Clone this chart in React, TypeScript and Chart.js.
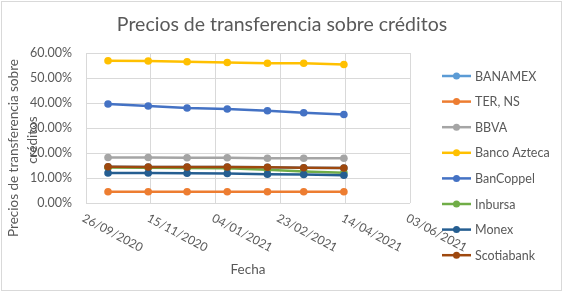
import React, { useEffect, useRef } from "react";
import { Chart, registerables } from "chart.js";

Chart.register(...registerables);

const chartTitle = "Precios de transferencia sobre créditos";
const yTitleLines = ["Precios de transferencia sobre", "créditos"];
const xTitle = "Fecha";

const dates = ["13/10/2020", "13/11/2020", "13/12/2020", "13/01/2021", "13/02/2021", "13/03/2021", "13/04/2021"];
const xTickLabels = ["26/09/2020", "15/11/2020", "04/01/2021", "23/02/2021", "14/04/2021", "03/06/2021"];

const seriesNames = ["BANAMEX", "TER, NS", "BBVA", "Banco Azteca", "BanCoppel", "Inbursa", "Monex", "Scotiabank"];
const seriesColors = ["#5B9BD5", "#ED7D31", "#A5A5A5", "#FFC000", "#4472C4", "#70AD47", "#255E91", "#9E480E"];

const banamex = [14.5, 14.4, 14.4, 14.4, 14.3, 14.1, 14.0];
const terNs = [4.5, 4.5, 4.5, 4.5, 4.5, 4.5, 4.5];
const bbva = [18.2, 18.2, 18.1, 18.1, 17.9, 17.9, 17.9];
const bancoAzteca = [56.9, 56.8, 56.5, 56.2, 55.9, 55.9, 55.4];
const banCoppel = [39.6, 38.8, 38.0, 37.6, 36.9, 36.1, 35.4];
const inbursa = [14.2, 14.1, 14.0, 13.9, 13.3, 12.6, 12.1];
const monex = [12.0, 12.0, 11.9, 11.8, 11.5, 11.4, 11.1];
const scotiabank = [14.5, 14.4, 14.4, 14.4, 14.3, 14.1, 14.0];

const seriesValues = [banamex, terNs, bbva, bancoAzteca, banCoppel, inbursa, monex, scotiabank];

const GREY = "#595959";
const FONT = "Lato, 'Open Sans', sans-serif";

function toSerial(s: string): number {
  const [d, m, y] = s.split("/").map(Number);
  return Math.round((Date.UTC(y, m - 1, d) - Date.UTC(1899, 11, 30)) / 86400000);
}

const xMin = toSerial(xTickLabels[0]);
const xMax = toSerial(xTickLabels[xTickLabels.length - 1]);

const decorPlugin = {
  id: "decor",
  afterDraw(chart: any) {
    const ctx = chart.ctx;
    const area = chart.chartArea;
    const xs = chart.scales.x;
    ctx.save();
    // outer border
    ctx.strokeStyle = "#d9d9d9";
    ctx.lineWidth = 1;
    ctx.strokeRect(1.5, 1.5, 560, 289);

    // title
    ctx.fillStyle = GREY;
    ctx.font = `19.5px ${FONT}`;
    ctx.textAlign = "center";
    ctx.textBaseline = "middle";
    ctx.fillText(chartTitle, 282, 25);

    // x tick labels, rotated clockwise
    ctx.font = `12px ${FONT}`;
    ctx.textAlign = "left";
    ctx.textBaseline = "top";
    xTickLabels.forEach((lab) => {
      const px = xs.getPixelForValue(toSerial(lab));
      ctx.save();
      ctx.translate(px, area.bottom + 9);
      ctx.rotate((28 * Math.PI) / 180);
      ctx.fillText(lab, 0, 0);
      ctx.restore();
    });

    // x title
    ctx.font = `13.5px ${FONT}`;
    ctx.textAlign = "center";
    ctx.textBaseline = "middle";
    ctx.fillText(xTitle, (area.left + area.right) / 2, 270);

    // y title (two lines, rotated)
    ctx.font = `13.5px ${FONT}`;
    const yCenters = [148, 140];
    const xCenters = [14, 33];
    yTitleLines.forEach((line, i) => {
      ctx.save();
      ctx.translate(xCenters[i], yCenters[i]);
      ctx.rotate(-Math.PI / 2);
      ctx.fillText(line, 0, 0);
      ctx.restore();
    });

    // legend
    ctx.font = `12.5px ${FONT}`;
    ctx.textAlign = "left";
    ctx.textBaseline = "middle";
    const startY = 76;
    const step = 25.6;
    chart.data.datasets.forEach((ds: any, i: number) => {
      const y = startY + i * step;
      ctx.strokeStyle = ds.borderColor;
      ctx.lineWidth = 2.5;
      ctx.beginPath();
      ctx.moveTo(442, y);
      ctx.lineTo(471, y);
      ctx.stroke();
      ctx.fillStyle = ds.backgroundColor;
      ctx.beginPath();
      ctx.arc(456.5, y, 3.5, 0, Math.PI * 2);
      ctx.fill();
      ctx.fillStyle = GREY;
      ctx.fillText(ds.label, 475, y + 0.5);
    });
    ctx.restore();
  },
};

export default function App() {
  const ref = useRef<HTMLCanvasElement>(null);
  useEffect(() => {
    document.body.style.margin = "0";
    const xValues = dates.map(toSerial);
    const n = seriesNames.length;
    const chart = new Chart(ref.current!, {
      type: "line",
      data: {
        datasets: seriesNames.map((name, i) => ({
          label: name,
          order: n - i,
          data: seriesValues[i].map((v, j) => ({ x: xValues[j], y: v })),
          borderColor: seriesColors[i],
          backgroundColor: seriesColors[i],
          pointBackgroundColor: seriesColors[i],
          pointBorderColor: seriesColors[i],
          pointRadius: 3.8,
          pointBorderWidth: 0,
          borderWidth: 2.5,
          tension: 0,
          fill: false,
        })),
      },
      options: {
        responsive: false,
        animation: false,
        events: [],
        layout: { padding: { left: 0, top: 53, right: 155, bottom: 0 } },
        plugins: { legend: { display: false }, title: { display: false }, tooltip: { enabled: false } },
        scales: {
          x: {
            type: "linear",
            min: xMin,
            max: xMax,
            ticks: { display: false, stepSize: 50 },
            grid: { color: "#d9d9d9", drawTicks: false },
            border: { display: false },
            afterFit: (s: any) => {
              s.height = 89;
            },
          },
          y: {
            min: 0,
            max: 60,
            ticks: {
              stepSize: 10,
              padding: 14,
              color: GREY,
              font: { family: FONT, size: 12.5 },
              callback: (v: any) => Number(v).toFixed(2) + "%",
            },
            grid: { color: "#d9d9d9", drawTicks: false },
            border: { display: false },
            afterFit: (s: any) => {
              s.width = 86;
            },
          },
        },
      },
      plugins: [decorPlugin],
    });
    return () => chart.destroy();
  }, []);
  return <canvas ref={ref} width={565} height={292} style={{ display: "block" }} />;
}
